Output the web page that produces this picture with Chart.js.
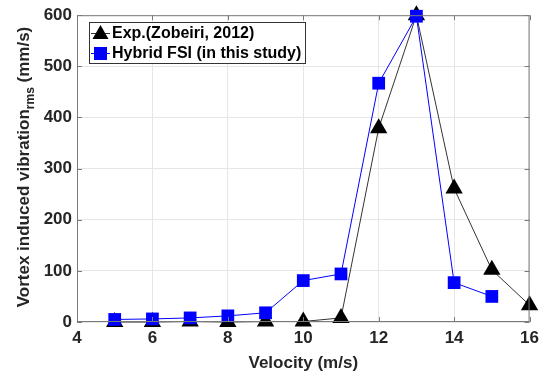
<!DOCTYPE html>
<html>
<head>
<meta charset="utf-8">
<script src="https://cdn.jsdelivr.net/npm/chart.js@4.4.1/dist/chart.umd.min.js"></script>
<style>
html, body { margin: 0; padding: 0; background: #fff; }
#wrap { width: 545px; height: 376px; }
</style>
</head>
<body>
<div id="wrap"><canvas id="vivChart"></canvas></div>
<script>
// velocities (m/s)
var expVelocity = [5, 6, 7, 8, 9, 10, 11, 12, 13, 14, 15, 16];
var fsiVelocity = [5, 6, 7, 8, 9, 10, 11, 12, 13, 14, 15];
// vortex induced vibration rms (mm/s)
var expValues = [0, 0, 1, 0, 1, 1, 8, 379, 600, 261, 102, 33];
var fsiValues = [5, 6, 8, 12, 18, 81, 94, 467, 598, 77, 50];

var expLabel = 'Exp.(Zobeiri, 2012)';
var fsiLabel = 'Hybrid FSI (in this study)';
var xTitle = 'Velocity (m/s)';

var FONT = "'Liberation Sans', Arial, sans-serif";
var TXT = '#262626';

function toPoints(xs, ys) {
	return xs.map(function (x, i) { return { x: x, y: ys[i] }; });
}

// axes box, inward ticks, legend and axis titles (MATLAB look)
var matlabFrame = {
	id: 'matlabFrame',
	afterDraw: function (chart) {
		var ctx = chart.ctx;
		var a = chart.chartArea;
		var sx = chart.scales.x, sy = chart.scales.y;
		ctx.save();
		ctx.strokeStyle = '#7a7a7a';
		ctx.lineWidth = 1;
		ctx.strokeRect(a.left + 0.5, a.top + 0.5, a.right - a.left - 1, a.bottom - a.top - 1);
		ctx.beginPath();
		sx.ticks.forEach(function (t) {
			var px = Math.round(sx.getPixelForValue(t.value)) + 0.5;
			ctx.moveTo(px, a.bottom); ctx.lineTo(px, a.bottom - 5);
			ctx.moveTo(px, a.top); ctx.lineTo(px, a.top + 5);
		});
		sy.ticks.forEach(function (t) {
			var py = Math.round(sy.getPixelForValue(t.value)) + 0.5;
			ctx.moveTo(a.left, py); ctx.lineTo(a.left + 5, py);
			ctx.moveTo(a.right, py); ctx.lineTo(a.right - 5, py);
		});
		ctx.stroke();

		// legend
		var lx = 89, ly = 22, lw = 216, lh = 41;
		ctx.fillStyle = '#fff';
		ctx.fillRect(lx, ly, lw, lh);
		ctx.strokeStyle = '#333';
		ctx.strokeRect(lx + 0.5, ly + 0.5, lw, lh);
		var rows = [
			{ text: expLabel, y: 33, line: '#333', fill: '#000', tri: true },
			{ text: fsiLabel, y: 53, line: '#0000ff', fill: '#0000ff', tri: false }
		];
		rows.forEach(function (r) {
			ctx.strokeStyle = r.line;
			ctx.lineWidth = 1;
			ctx.beginPath();
			ctx.moveTo(91, r.y + 0.5); ctx.lineTo(110, r.y + 0.5);
			ctx.stroke();
			ctx.fillStyle = r.fill;
			ctx.beginPath();
			if (r.tri) {
				ctx.moveTo(100.5, r.y - 8);
				ctx.lineTo(108.5, r.y + 6);
				ctx.lineTo(92.5, r.y + 6);
				ctx.closePath();
			} else {
				ctx.rect(94, r.y - 6, 13, 13);
			}
			ctx.fill();
			ctx.fillStyle = '#000';
			ctx.font = 'bold 16px ' + FONT;
			ctx.textAlign = 'left';
			ctx.textBaseline = 'middle';
			ctx.fillText(r.text, 112, r.y + 1);
		});

		// x title
		ctx.fillStyle = TXT;
		ctx.font = 'bold 17px ' + FONT;
		ctx.textAlign = 'center';
		ctx.textBaseline = 'middle';
		ctx.fillText(xTitle, (a.left + a.right) / 2, 363);

		// y title with subscript
		var main = 'Vortex induced vibration', sub = 'rms', tail = ' (mm/s)';
		ctx.font = 'bold 17px ' + FONT;
		var wMain = ctx.measureText(main).width;
		var wTail = ctx.measureText(tail).width;
		ctx.font = 'bold 12px ' + FONT;
		var wSub = ctx.measureText(sub).width;
		var total = wMain + wSub + wTail;
		ctx.translate(24, 167);
		ctx.rotate(-Math.PI / 2);
		ctx.textAlign = 'left';
		var x0 = -total / 2;
		ctx.font = 'bold 17px ' + FONT;
		ctx.fillText(main, x0, 0);
		ctx.font = 'bold 12px ' + FONT;
		ctx.fillText(sub, x0 + wMain, 7);
		ctx.font = 'bold 17px ' + FONT;
		ctx.fillText(tail, x0 + wMain + wSub, 0);
		ctx.restore();
	}
};

var vivChart = new Chart(document.getElementById('vivChart'), {
	type: 'line',
	data: {
		datasets: [
			{
				label: expLabel,
				data: toPoints(expVelocity, expValues),
				borderColor: '#333333',
				backgroundColor: '#000000',
				borderWidth: 1,
				pointStyle: 'triangle',
				pointRadius: 10,
				pointBorderWidth: 0,
				clip: false,
				order: 2,
			},
			{
				label: fsiLabel,
				data: toPoints(fsiVelocity, fsiValues),
				borderColor: '#0000ff',
				backgroundColor: '#0000ff',
				borderWidth: 1,
				pointStyle: 'rect',
				pointRadius: 9,
				pointBorderWidth: 0,
				clip: false,
				order: 1,
			},
		],
	},
	options: {
		responsive: true,
		maintainAspectRatio: false,
		animation: false,
		layout: {
			padding: { top: 15, right: 15, left: 0, bottom: 0 },
		},
		plugins: {
			legend: { display: false },
			tooltip: { enabled: false },
		},
		scales: {
			x: {
				type: 'linear',
				min: 4,
				max: 16,
				ticks: {
					stepSize: 2,
					padding: 6,
					color: TXT,
					font: { family: FONT, size: 17, weight: 'bold' },
				},
				grid: { color: '#e6e6e6', drawTicks: false },
				border: { display: false },
				afterFit: function (scale) { scale.height = 54; },
			},
			y: {
				min: 0,
				max: 600,
				ticks: {
					stepSize: 100,
					padding: 5,
					color: TXT,
					font: { family: FONT, size: 17, weight: 'bold' },
				},
				grid: { color: '#e6e6e6', drawTicks: false },
				border: { display: false },
				afterFit: function (scale) { scale.width = 77; },
			},
		},
	},
	plugins: [matlabFrame],
});
</script>
</body>
</html>
